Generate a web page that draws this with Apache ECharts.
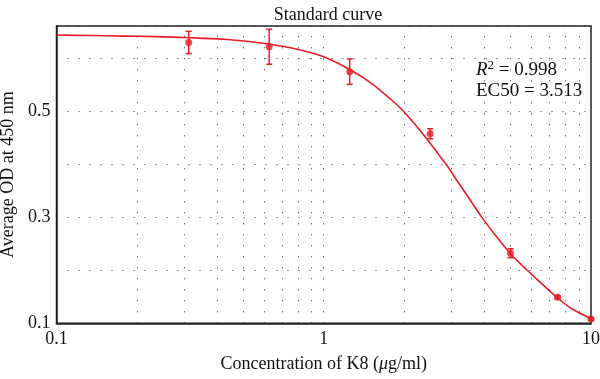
<!DOCTYPE html>
<html>
<head>
<meta charset="utf-8">
<script src="https://cdn.jsdelivr.net/npm/echarts@6/dist/echarts.min.js"></script>
<style>html,body{margin:0;padding:0;background:#fff}#c{width:600px;height:379px}</style>
</head>
<body>
<div id="c"></div>
<script>
// ---- data ----
var concentration = [0.3125, 0.625, 1.25, 2.5, 5, 7.5, 10];
var meanOD = [0.629, 0.621, 0.574, 0.457, 0.232, 0.149, 0.108];
var sdOD = [0.021, 0.033, 0.024, 0.0095, 0.0085, 0.003, 0.002];
var curveX = [0.1, 0.133, 0.178, 0.237, 0.316, 0.422, 0.562, 0.75, 1.0, 1.25, 1.5, 1.78, 2.0, 2.37, 2.88, 3.16, 3.5, 3.9, 4.4, 5.0, 5.77, 6.5, 7.4, 8.5, 10];
var curveY = [0.643, 0.642, 0.641, 0.640, 0.638, 0.635, 0.629, 0.619, 0.602, 0.578, 0.553, 0.522, 0.498, 0.454, 0.398, 0.368, 0.335, 0.300, 0.265, 0.231, 0.200, 0.176, 0.150, 0.127, 0.109];
var xGridValues = [0.2, 0.3, 0.4, 0.5, 0.6, 0.7, 0.8, 0.9, 1, 2, 3, 4, 5, 6, 7, 8, 9];
var yTickLabels = ['0.1', '0.3', '0.5'];
var xTickLabels = ['0.1', '1', '10'];
var titleText = 'Standard curve';
var yName = 'Average OD at 450 nm';
var statR2 = '0.998';
var statEC50 = '3.513';

var RED = '#ec1c24';
var FONT = 'Liberation Serif';
var dotted = {color: '#333', width: 1, type: [1, 10]};

var chart = echarts.init(document.getElementById('c'), null, {renderer: 'canvas'});

var pointData = concentration.map(function (x, i) { return [x, meanOD[i]]; });
var errData = concentration.map(function (x, i) { return [x, meanOD[i] - sdOD[i], meanOD[i] + sdOD[i]]; });
var curveData = curveX.map(function (x, i) { return [x, curveY[i]]; });

chart.setOption({
  animation: false,
  backgroundColor: '#fff',
  title: {
    text: titleText, left: 323, top: 1, textAlign: 'center',
    textStyle: {fontFamily: FONT, fontSize: 18, fontWeight: 'normal', color: '#111'}
  },
  grid: {left: 56.5, right: 9, top: 26, bottom: 55.7, containLabel: false, outerBoundsMode: 'none',
    show: true, borderColor: '#222', borderWidth: 1.5, backgroundColor: 'transparent'},
  xAxis: {
    type: 'log', logBase: 10, min: 0.1, max: 10,
    name: 'Concentration of K8 ({mu|μ}g/ml)',
    nameLocation: 'middle', nameGap: 32,
    nameTextStyle: {fontFamily: FONT, fontSize: 18, color: '#111', rich: {mu: {fontFamily: FONT, fontSize: 18, fontStyle: 'italic', color: '#111'}}},
    axisLine: {show: true, lineStyle: {color: '#222', width: 1.5}},
    axisTick: {show: false},
    splitLine: {show: false},
    axisLabel: {
      fontFamily: FONT, fontSize: 18, color: '#111', margin: 7,
      formatter: function (v) {
        for (var i = 0; i < xTickLabels.length; i++) if (Math.abs(v - parseFloat(xTickLabels[i])) < 1e-9) return xTickLabels[i];
        return '';
      }
    }
  },
  yAxis: {
    type: 'value', min: 0.1, max: 0.66, interval: 0.1,
    name: yName, nameLocation: 'middle', nameGap: 33, nameRotate: 90,
    nameTextStyle: {fontFamily: FONT, fontSize: 18, color: '#111'},
    axisLine: {show: true, lineStyle: {color: '#222', width: 1.5}},
    axisTick: {show: false},
    splitLine: {show: true, lineStyle: dotted},
    axisLabel: {
      fontFamily: FONT, fontSize: 18, color: '#111', margin: 6,
      formatter: function (v) {
        for (var i = 0; i < yTickLabels.length; i++) if (Math.abs(v - parseFloat(yTickLabels[i])) < 1e-6) return yTickLabels[i];
        return '';
      }
    }
  },
  graphic: [
    {type: 'text', left: 476, top: 59, z: 10, style: {
      text: '{i|R}{s|2} = ' + statR2,
      fontFamily: FONT, fontSize: 19, fill: '#111',
      rich: {i: {fontFamily: FONT, fontSize: 19, fontStyle: 'italic', color: '#111'},
             s: {fontFamily: FONT, fontSize: 13, color: '#111', verticalAlign: 'top', padding: [0, 0, 9, 0]}}
    }},
    {type: 'text', left: 476, top: 82, z: 10, style: {
      text: 'EC50 = ' + statEC50, fontFamily: FONT, fontSize: 19, fill: '#111'
    }}
  ],
  series: [
    {
      type: 'line', data: [], silent: true,
      markLine: {symbol: ['none', 'none'], silent: true, label: {show: false},
        lineStyle: dotted, data: xGridValues.map(function (v) { return {xAxis: v}; })}
    },
    {
      type: 'line', data: curveData, smooth: 0.3, showSymbol: false, symbol: 'none',
      lineStyle: {color: RED, width: 1.6}, z: 3
    },
    {
      type: 'custom', data: errData, z: 4,
      renderItem: function (params, api) {
        var x = api.value(0);
        var p1 = api.coord([x, api.value(1)]);
        var p2 = api.coord([x, api.value(2)]);
        var cw = 3;
        var st = {stroke: RED, lineWidth: 1.5};
        return {type: 'group', children: [
          {type: 'line', shape: {x1: p1[0], y1: p1[1], x2: p2[0], y2: p2[1]}, style: st},
          {type: 'line', shape: {x1: p1[0] - cw, y1: p1[1], x2: p1[0] + cw, y2: p1[1]}, style: st},
          {type: 'line', shape: {x1: p2[0] - cw, y1: p2[1], x2: p2[0] + cw, y2: p2[1]}, style: st}
        ]};
      }
    },
    {
      type: 'scatter', data: pointData, symbol: 'circle', symbolSize: 7,
      itemStyle: {color: RED}, z: 5
    }
  ]
});
</script>
</body>
</html>
